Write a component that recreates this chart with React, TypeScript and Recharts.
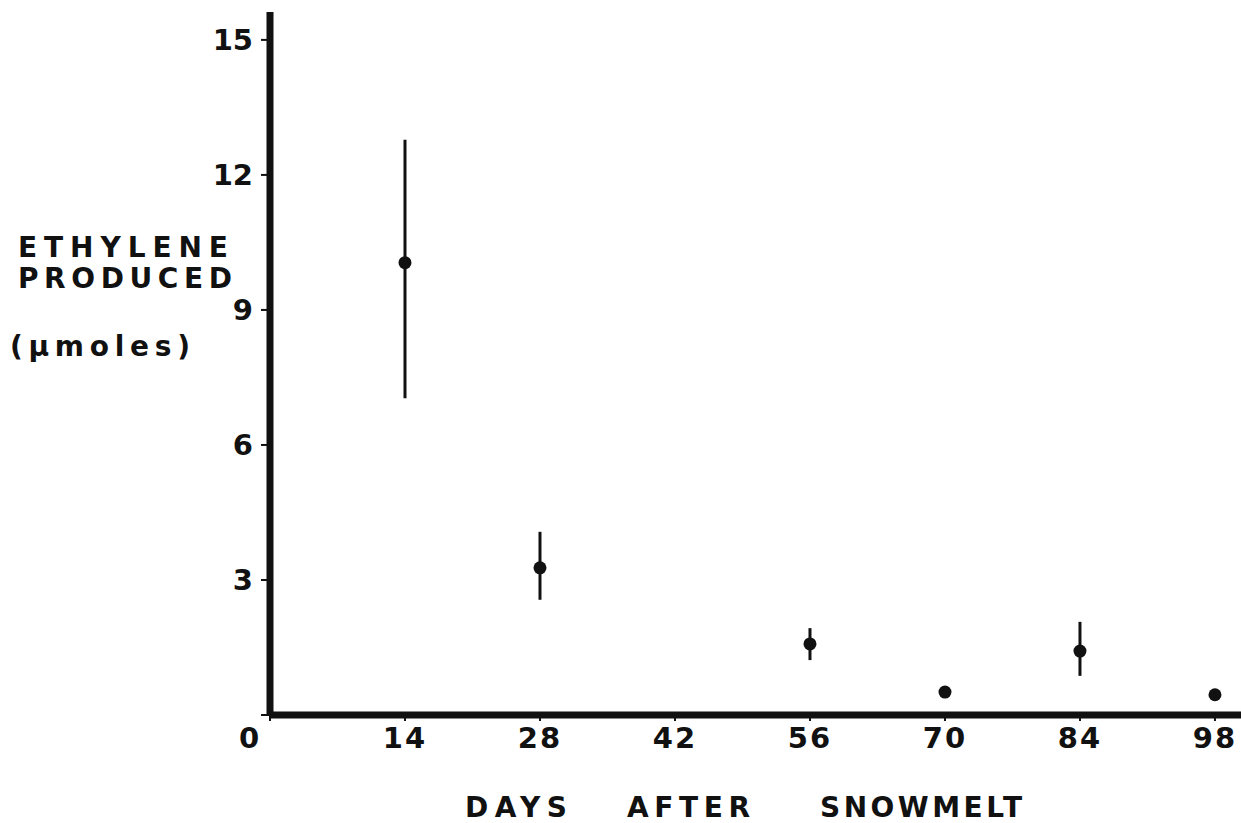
import { ErrorBar, Scatter, ScatterChart, XAxis, YAxis } from "recharts";

const days = [14, 28, 56, 70, 84, 98];
const ethylene = [10.05, 3.27, 1.58, 0.51, 1.42, 0.45];
const errLow = [7.04, 2.56, 1.22, 0.51, 0.87, 0.45];
const errHigh = [12.78, 4.07, 1.93, 0.51, 2.07, 0.45];

const xTicks = [0, 14, 28, 42, 56, 70, 84, 98];
const yTicks = [0, 3, 6, 9, 12, 15];

const FONT = "'DejaVu Sans', sans-serif";

const data = days.map((d, i) => ({
  day: d,
  value: ethylene[i],
  err: [ethylene[i] - errLow[i], errHigh[i] - ethylene[i]],
}));

function XTick({ x, y, payload }: any) {
  const isZero = payload.value === 0;
  return (
    <text
      x={isZero ? x - 20 : x}
      y={y + 25}
      textAnchor="middle"
      fontFamily={FONT}
      fontWeight="bold"
      fontSize={29}
      letterSpacing={2}
      fill="#111"
    >
      {payload.value}
    </text>
  );
}

function YTick({ x, y, payload }: any) {
  if (payload.value === 0) return <g />;
  return (
    <text
      x={x}
      y={y + 10}
      textAnchor="end"
      fontFamily={FONT}
      fontWeight="bold"
      fontSize={29}
      fill="#111"
    >
      {payload.value}
    </text>
  );
}

function Dot({ cx, cy }: any) {
  return <circle cx={cx} cy={cy} r={6.5} fill="#111" />;
}

export default function App() {
  return (
    <div style={{ position: "absolute", left: 0, top: 0, width: 1241, height: 823, background: "#fff" }}>
      <ScatterChart width={1241} height={823} margin={{ top: 12, right: 0, bottom: 8, left: 0 }}>
        <XAxis
          type="number"
          dataKey="day"
          domain={[0, 100.7]}
          ticks={xTicks}
          height={100}
          axisLine={{ stroke: "#111", strokeWidth: 7 }}
          tickLine={{ stroke: "#111", strokeWidth: 2 }}
          tickSize={6}
          tick={<XTick />}
          interval={0}
        />
        <YAxis
          type="number"
          dataKey="value"
          domain={[0, 15.62]}
          ticks={yTicks}
          width={270}
          axisLine={{ stroke: "#111", strokeWidth: 7 }}
          tickLine={{ stroke: "#111", strokeWidth: 2 }}
          tickSize={9}
          tickMargin={8}
          tick={<YTick />}
          interval={0}
        />
        <Scatter data={data} dataKey="value" shape={<Dot />} isAnimationActive={false}>
          <ErrorBar dataKey="err" direction="y" width={0} stroke="#111" strokeWidth={3} />
        </Scatter>
      </ScatterChart>
      <svg
        width={1241}
        height={823}
        style={{ position: "absolute", left: 0, top: 0, pointerEvents: "none" }}
        fontFamily={FONT}
        fontWeight="bold"
        fill="#111"
      >
        <text x={18} y={257} fontSize={28} textLength={210} lengthAdjust="spacing">ETHYLENE</text>
        <text x={18} y={288} fontSize={28} textLength={214} lengthAdjust="spacing">PRODUCED</text>
        <text x={10} y={356} fontSize={28} textLength={180} lengthAdjust="spacing">(µmoles)</text>
        <text x={465} y={817} fontSize={28} textLength={102} lengthAdjust="spacing">DAYS</text>
        <text x={627} y={817} fontSize={28} textLength={123} lengthAdjust="spacing">AFTER</text>
        <text x={820} y={817} fontSize={28} textLength={202} lengthAdjust="spacing">SNOWMELT</text>
      </svg>
    </div>
  );
}
